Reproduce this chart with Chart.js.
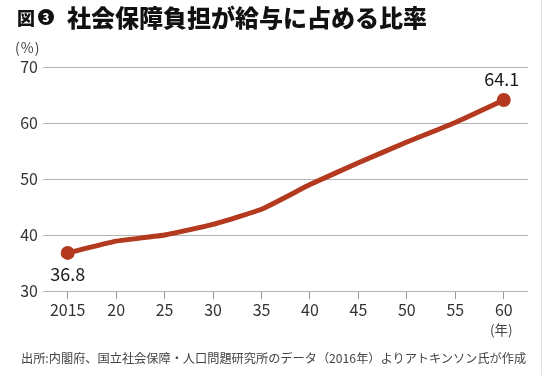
<!DOCTYPE html>
<html><head><meta charset="utf-8">
<script src="https://cdn.jsdelivr.net/npm/chart.js@4.4.0/dist/chart.umd.min.js"></script>
<style>
html,body{margin:0;padding:0;background:#fff;}
#wrap{position:relative;width:546px;height:375px;overflow:hidden;background:#fff;font-family:"Noto Sans CJK JP","Noto Sans",sans-serif;}
#c{position:absolute;left:0;top:0;}
.t{position:absolute;white-space:nowrap;line-height:1;}
#fig{left:17px;top:8px;font-size:18px;font-weight:900;color:#111;}
#num{left:38px;top:9px;width:16px;height:16px;border-radius:50%;background:#111;color:#fff;font-size:12px;font-weight:900;text-align:center;line-height:16px;}
#title{left:67px;top:5px;font-size:24px;font-weight:900;color:#111;}
#unit{left:15px;top:40px;font-size:14px;color:#444;letter-spacing:1px;}
#nen{left:490px;top:323px;font-size:13.5px;color:#444;}
#src{left:21px;top:352px;font-size:12.2px;color:#444;}
#edge{position:absolute;left:541px;top:0;width:1px;height:375px;background:#e2e2e2;}
</style></head>
<body>
<div id="wrap">
<canvas id="c" width="546" height="375"></canvas>
<div class="t" id="fig">図</div>
<div class="t" id="num">3</div>
<div class="t" id="title">社会保障負担が給与に占める比率</div>
<div class="t" id="unit">(%)</div>
<div class="t" id="nen">(年)</div>
<div class="t" id="src">出所:内閣府、国立社会保障・人口問題研究所のデータ（2016年）よりアトキンソン氏が作成</div>
<div id="edge"></div>
</div>
<script>
const years = [2015, 2020, 2025, 2030, 2035, 2040, 2045, 2050, 2055, 2060];
const xTickLabels = ['2015', '20', '25', '30', '35', '40', '45', '50', '55', '60'];
const ratio = [36.8, 38.9, 40.0, 41.9, 44.6, 49.0, 52.9, 56.6, 60.1, 64.1];
const yTicks = [30, 40, 50, 60, 70];
const labelled = {0: '36.8', 9: '64.1'};

const lineColor = '#b3391f';
const last = ratio.length - 1;

const labelPlugin = {
  id: 'endLabels',
  afterDatasetsDraw(chart) {
    const ctx = chart.ctx;
    const meta = chart.getDatasetMeta(0);
    ctx.save();
    ctx.font = '18px "Noto Sans CJK JP", "Noto Sans", sans-serif';
    ctx.fillStyle = '#1a1a1a';
    ctx.textAlign = 'center';
    ctx.textBaseline = 'middle';
    Object.keys(labelled).forEach(k => {
      const i = +k;
      const p = meta.data[i];
      const dy = i === 0 ? 21 : -21;
      ctx.fillText(labelled[k], p.x + (i === 0 ? 0 : -2), p.y + dy);
    });
    ctx.restore();
  }
};

new Chart(document.getElementById('c'), {
  type: 'line',
  data: {
    datasets: [{
      data: years.map((y, i) => ({x: y, y: ratio[i]})),
      borderColor: lineColor,
      backgroundColor: lineColor,
      borderWidth: 5,
      tension: 0.12,
      borderCapStyle: 'round',
      borderJoinStyle: 'round',
      pointRadius: c => (c.dataIndex === 0 || c.dataIndex === last) ? 7 : 0,
      pointHoverRadius: 0,
      pointBorderWidth: 0,
      pointBackgroundColor: lineColor,
      clip: false
    }]
  },
  options: {
    responsive: false,
    animation: false,
    events: [],
    layout: {padding: {top: 67, right: 18, bottom: 54, left: 0}},
    plugins: {legend: {display: false}, tooltip: {enabled: false}, title: {display: false}},
    scales: {
      x: {
        type: 'linear',
        min: 2012.45,
        max: 2062.5,
        afterBuildTicks: s => { s.ticks = years.map(v => ({value: v})); },
        afterFit: s => { s.height = 30; },
        ticks: {
          autoSkip: false,
          maxRotation: 0,
          padding: 1,
          color: '#333',
          font: {family: '"Noto Sans CJK JP", "Noto Sans", sans-serif', size: 16},
          callback: (v) => xTickLabels[years.indexOf(v)]
        },
        grid: {display: true, drawOnChartArea: false, drawTicks: true, tickLength: 8, color: '#999', lineWidth: 1},
        border: {display: false}
      },
      y: {
        min: 30,
        max: 70,
        afterBuildTicks: s => { s.ticks = yTicks.map(v => ({value: v})); },
        afterFit: s => { s.width = 43; },
        ticks: {
          padding: 5,
          color: '#333',
          font: {family: '"Noto Sans CJK JP", "Noto Sans", sans-serif', size: 16}
        },
        grid: {color: '#b4b4b4', lineWidth: 1, drawTicks: false},
        border: {display: false}
      }
    }
  },
  plugins: [labelPlugin]
});
</script>
</body></html>
